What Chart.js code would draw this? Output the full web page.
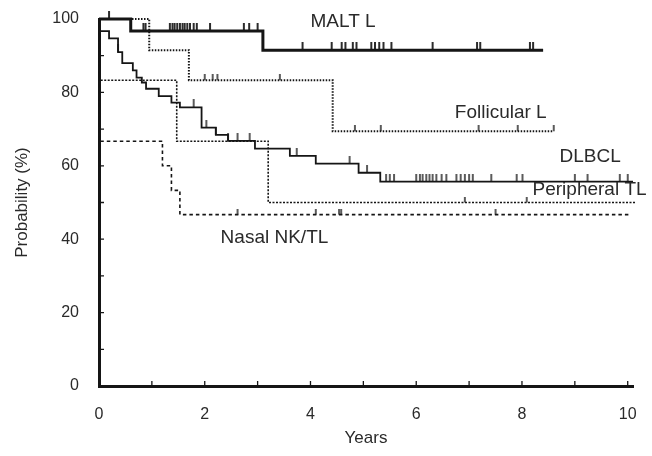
<!DOCTYPE html>
<html>
<head>
<meta charset="utf-8">
<script src="https://cdn.jsdelivr.net/npm/chart.js@4.4.1/dist/chart.umd.min.js"></script>
<style>
  html, body { margin: 0; padding: 0; background: #fff; }
  #wrap { width: 652px; height: 456px; }
</style>
</head>
<body>
<div id="wrap"><canvas id="km"></canvas></div>
<script>
// Kaplan-Meier curves: event times (years) and survival (%) after each step
var maltTimes = [0, 0.6, 3.1, 8.4];
var maltSurv  = [100, 96.7, 91.5, 91.5];
var maltCensor = [0.19, 0.84, 0.88, 1.34, 1.39, 1.43, 1.48, 1.53, 1.58, 1.62, 1.67, 1.72, 1.79, 1.85,
                  2.1, 2.74, 2.84, 3.0, 3.85, 4.4, 4.59, 4.66, 4.8, 4.87, 5.15, 5.22, 5.3, 5.38, 5.53,
                  6.31, 7.15, 7.21, 8.15, 8.21];

var follTimes = [0, 0.95, 1.7, 4.42, 8.6];
var follSurv  = [100, 91.5, 83.3, 69.4, 69.4];
var follCensor = [2.0, 2.15, 2.24, 3.42, 4.84, 5.33, 7.18, 7.92, 8.6];

var dlbclTimes = [0, 0, 0.19, 0.36, 0.44, 0.64, 0.71, 0.81, 0.89, 1.13, 1.37, 1.53, 1.94, 2.21, 2.44, 2.95, 3.61, 4.1, 4.91, 5.32, 10.1];
var dlbclSurv  = [100, 96.7, 94.7, 91, 88, 86, 84, 82.7, 81, 79, 77.2, 75.9, 70.4, 68.4, 66.8, 64.7, 62.7, 60.6, 58.1, 55.7, 55.7];
var dlbclCensor = [0.36, 1.79, 2.03, 2.21, 2.44, 2.62, 2.85, 3.74, 4.74, 5.07, 5.43, 5.5, 5.58,
                   6.0, 6.07, 6.12, 6.19, 6.25, 6.31, 6.38, 6.48, 6.57, 6.76, 6.84, 6.92, 7.0, 7.07,
                   7.42, 7.9, 8.01, 9.0, 9.24, 9.85, 10.0];

var ptclTimes = [0, 0, 1.47, 3.2, 10.15];
var ptclSurv  = [100, 83.3, 66.7, 50, 50];
var ptclCensor = [6.92, 8.09];

var nasalTimes = [0, 0, 1.2, 1.37, 1.53, 10.05];
var nasalSurv  = [100, 66.7, 60, 53.3, 46.7, 46.7];
var nasalCensor = [2.62, 4.1, 4.54, 4.58, 7.5];

var xTicks = [0, 2, 4, 6, 8, 10];
var yTicks = [0, 20, 40, 60, 80, 100];

var INK = '#151515';
var FONT = '"Liberation Sans", Arial, Helvetica, sans-serif';

function toPoints(t, s) {
    var pts = [];
    for (var i = 0; i < t.length; i++) pts.push({x: t[i], y: s[i]});
    return pts;
}

// survival value of a step curve at time x
function survAt(t, s, x) {
    var v = s[0];
    for (var i = 0; i < t.length; i++) {
        if (t[i] <= x) v = s[i];
    }
    return v;
}

function censorPoints(t, s, c) {
    return c.map(function(x) { return {x: x, y: survAt(t, s, x)}; });
}

// little upward tick used as the censor mark (image is centred on the point, so only the top half is drawn)
function censorMark(h, w) {
    var cv = document.createElement('canvas');
    cv.width = 4; cv.height = h * 2;
    var g = cv.getContext('2d');
    g.strokeStyle = INK;
    g.lineWidth = w;
    g.beginPath();
    g.moveTo(2, 0);
    g.lineTo(2, h);
    g.stroke();
    return cv;
}

function curve(label, t, s, width, dash) {
    return {
        label: label,
        data: toPoints(t, s),
        showLine: true,
        stepped: true,
        borderColor: INK,
        borderWidth: width,
        borderDash: dash,
        pointRadius: 0,
        clip: false
    };
}

function censors(label, t, s, c, mark) {
    return {
        label: label + ' censored',
        data: censorPoints(t, s, c),
        showLine: false,
        pointStyle: mark,
        pointRadius: 4,
        clip: false
    };
}

// no extra room for tick label overflow, the layout padding handles it
function noOverflow(scale) {
    scale.paddingTop = 0;
    scale.paddingBottom = 0;
    scale.paddingLeft = 0;
    scale.paddingRight = 0;
}

var groupLabels = [
    {text: 'MALT L', x: 4.0, y: 99.2},
    {text: 'Follicular L', x: 6.73, y: 74.4},
    {text: 'DLBCL', x: 8.71, y: 62.4},
    {text: 'Peripheral TL', x: 8.2, y: 53.4},
    {text: 'Nasal NK/TL', x: 2.3, y: 40.3}
];

// inward tick marks on both axes and the curve names
var decorations = {
    id: 'decorations',
    afterDraw: function(chart) {
        var ctx = chart.ctx, xs = chart.scales.x, ys = chart.scales.y, a = chart.chartArea;
        ctx.save();
        ctx.strokeStyle = INK;
        ctx.lineWidth = 1.3;
        ctx.beginPath();
        for (var i = 1; i <= 10; i++) {
            var px = xs.getPixelForValue(i);
            ctx.moveTo(px, a.bottom);
            ctx.lineTo(px, a.bottom - 5);
        }
        for (var j = 10; j <= 100; j += 10) {
            var py = ys.getPixelForValue(j);
            ctx.moveTo(a.left, py);
            ctx.lineTo(a.left + 5, py);
        }
        ctx.stroke();

        ctx.fillStyle = '#2a2a2a';
        ctx.font = '19px ' + FONT;
        ctx.textAlign = 'left';
        ctx.textBaseline = 'middle';
        groupLabels.forEach(function(l) {
            ctx.fillText(l.text, xs.getPixelForValue(l.x), ys.getPixelForValue(l.y));
        });
        ctx.restore();
    }
};

var ctx = document.getElementById('km').getContext('2d');
var myChart = new Chart(ctx, {
    type: 'scatter',
    data: {
        datasets: [
            curve('MALT L', maltTimes, maltSurv, 3, []),
            curve('Follicular L', follTimes, follSurv, 2, [1.5, 1.5]),
            curve('DLBCL', dlbclTimes, dlbclSurv, 1.8, []),
            curve('Peripheral TL', ptclTimes, ptclSurv, 1.6, [2, 1.5]),
            curve('Nasal NK/TL', nasalTimes, nasalSurv, 1.6, [3.5, 3]),
            censors('MALT L', maltTimes, maltSurv, maltCensor, censorMark(8, 1.8)),
            censors('Follicular L', follTimes, follSurv, follCensor, censorMark(6, 1.4)),
            censors('DLBCL', dlbclTimes, dlbclSurv, dlbclCensor, censorMark(8, 1.4)),
            censors('Peripheral TL', ptclTimes, ptclSurv, ptclCensor, censorMark(6, 1.4)),
            censors('Nasal NK/TL', nasalTimes, nasalSurv, nasalCensor, censorMark(6, 1.4))
        ]
    },
    options: {
        responsive: true,
        maintainAspectRatio: false,
        animation: false,
        layout: { padding: { top: 19, right: 19, left: 0, bottom: 0 } },
        plugins: {
            legend: { display: false },
            tooltip: { enabled: false }
        },
        scales: {
            x: {
                type: 'linear',
                min: 0,
                max: 10.1,
                afterFit: function(scale) { scale.height = 70; noOverflow(scale); },
                afterBuildTicks: function(scale) {
                    scale.ticks = xTicks.map(function(v) { return {value: v}; });
                },
                border: { display: true, color: INK, width: 3 },
                grid: { display: false, drawTicks: false },
                ticks: {
                    color: '#2a2a2a',
                    font: { family: FONT, size: 16 },
                    padding: 19,
                    maxRotation: 0
                },
                title: {
                    display: true,
                    text: 'Years',
                    color: '#2a2a2a',
                    font: { family: FONT, size: 17 },
                    padding: { top: 0, bottom: 7 }
                }
            },
            y: {
                type: 'linear',
                min: 0,
                max: 100,
                afterFit: function(scale) { scale.width = 99; noOverflow(scale); },
                afterBuildTicks: function(scale) {
                    scale.ticks = yTicks.map(function(v) { return {value: v}; });
                },
                border: { display: true, color: INK, width: 3 },
                grid: { display: false, drawTicks: false },
                ticks: {
                    color: '#2a2a2a',
                    font: { family: FONT, size: 16 },
                    padding: 20
                },
                title: {
                    display: true,
                    text: 'Probability (%)',
                    color: '#2a2a2a',
                    font: { family: FONT, size: 17 },
                    padding: { top: 12, bottom: 0 }
                }
            }
        }
    },
    plugins: [decorations]
});
</script>
</body>
</html>
